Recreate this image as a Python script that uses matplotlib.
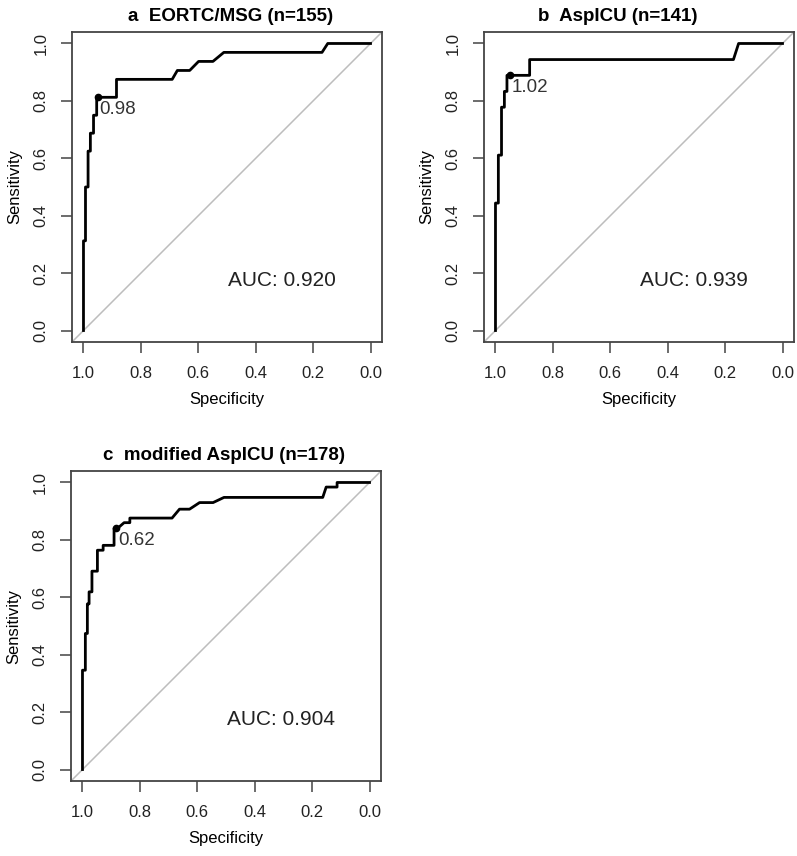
import matplotlib.pyplot as plt

plt.rcParams['font.family'] = ['Liberation Sans', 'DejaVu Sans']

# ROC curve vertices (specificity, sensitivity)
a_spec = [1.0, 1.0, 0.993, 0.993, 0.984, 0.984, 0.976, 0.976, 0.965, 0.965, 0.954, 0.954,
          0.885, 0.885, 0.691, 0.673, 0.630, 0.599, 0.549, 0.511, 0.169, 0.149, 0.0]
a_sens = [0.0, 0.3125, 0.3125, 0.5, 0.5, 0.625, 0.625, 0.6875, 0.6875, 0.75, 0.75, 0.8125,
          0.8125, 0.875, 0.875, 0.906, 0.906, 0.9375, 0.9375, 0.969, 0.969, 1.0, 1.0]

b_spec = [1.0, 1.0, 0.99, 0.99, 0.979, 0.979, 0.969, 0.969, 0.96, 0.96,
          0.881, 0.881, 0.171, 0.153, 0.0]
b_sens = [0.0, 0.444, 0.444, 0.611, 0.611, 0.778, 0.778, 0.833, 0.833, 0.889,
          0.889, 0.944, 0.944, 1.0, 1.0]

c_spec = [1.0, 1.0, 0.99, 0.99, 0.983, 0.983, 0.977, 0.977, 0.967, 0.967, 0.948, 0.948,
          0.928, 0.928, 0.89, 0.89, 0.878, 0.855, 0.835, 0.835, 0.688, 0.662, 0.627, 0.592,
          0.545, 0.507, 0.163, 0.151, 0.113, 0.113, 0.0]
c_sens = [0.0, 0.346, 0.346, 0.474, 0.474, 0.577, 0.577, 0.619, 0.619, 0.691, 0.691, 0.764,
          0.764, 0.781, 0.781, 0.84, 0.84, 0.86, 0.86, 0.876, 0.876, 0.907, 0.907, 0.93,
          0.93, 0.948, 0.948, 0.984, 0.984, 1.0, 1.0]

# best threshold points
a_best = (0.951, 0.8125, "0.98")
b_best = (0.95, 0.889, "1.02")
c_best = (0.884, 0.84, "0.62")

titles = ["a  EORTC/MSG (n=155)", "b  AspICU (n=141)", "c  modified AspICU (n=178)"]
title_x = [0.51, 0.43, 0.495]
aucs = ["AUC: 0.920", "AUC: 0.939", "AUC: 0.904"]
ticks = [0.0, 0.2, 0.4, 0.6, 0.8, 1.0]

W, H = 797, 856
fig = plt.figure(figsize=(W / 100, H / 100), dpi=100)


def add_ax(left, top, w=310, h=310):
    return fig.add_axes([left / W, 1 - (top + h) / H, w / W, h / H])


axes = [add_ax(72, 32), add_ax(484, 32), add_ax(71, 471)]
curves = [(a_spec, a_sens, a_best), (b_spec, b_sens, b_best), (c_spec, c_sens, c_best)]

for ax, (sp, se, best), title, tx, auc in zip(axes, curves, titles, title_x, aucs):
    ax.axline((1, 0), (0, 1), color='#bdbdbd', lw=1.1, zorder=1)
    ax.plot(sp, se, color='black', lw=2.0, zorder=3)
    ax.plot(best[0], best[1], 'o', color='black', ms=4.5, zorder=4)
    ax.annotate(best[2], (best[0], best[1]), xytext=(1.5, -2.5), textcoords='offset points',
                ha='left', va='top', fontsize=13.5, color='#333333')
    ax.text(0.31, 0.175, auc, ha='center', va='center', fontsize=15, color='#222222')

    ax.set_xlim(1.04, -0.04)
    ax.set_ylim(-0.04, 1.04)
    ax.set_xticks(ticks)
    ax.set_yticks(ticks)
    ax.set_xticklabels([f"{t:.1f}" for t in ticks])
    ax.set_yticklabels([f"{t:.1f}" for t in ticks])
    ax.tick_params(direction='out', length=8, width=1.1, color='#444444',
                   labelsize=12, labelcolor='#222222', pad=9)
    plt.setp(ax.get_yticklabels(), rotation=90, va='center')
    for s in ax.spines.values():
        s.set_color('#444444')
        s.set_linewidth(1.3)
    ax.set_xlabel("Specificity", fontsize=12, labelpad=8)
    ax.set_ylabel("Sensitivity", fontsize=12, labelpad=8)
    ax.set_title(title, fontsize=13.5, fontweight='bold', pad=8, x=tx)

fig.savefig("out.png", dpi=100)
